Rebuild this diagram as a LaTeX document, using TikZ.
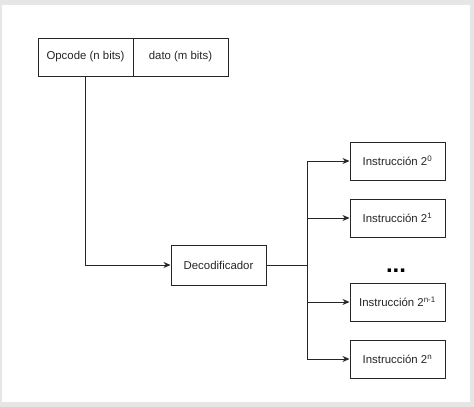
\documentclass[tikz,border=0pt]{standalone}
\usepackage{fontspec}
\setmainfont{Liberation Sans}
\usetikzlibrary{arrows.meta}
\definecolor{frame}{HTML}{E6E6E6}
\definecolor{ln}{HTML}{262626}
\begin{document}
\begin{tikzpicture}[x=1pt,y=-1pt,
  box/.style={draw=ln,line width=1pt,fill=white,minimum width=95pt,minimum height=38pt,inner sep=0pt,font=\fontsize{11.4}{13}\selectfont,text=ln},
  conn/.style={draw=ln,line width=1pt},
  arr/.style={conn,-{Stealth[length=7pt,width=6pt]}}]
\fill[frame] (0,0) rectangle (474,407);
\fill[white] (2,5) rectangle (470,402);
\useasboundingbox (0,0) rectangle (474,407);
\node[box] (op) at (85.5,57) {Opcode (n bits)};
\node[box] (dato) at (180.5,57) {dato (m bits)};
\node[box,minimum height=40pt] (dec) at (218.5,265) {Decodificador};
\node[box] (i0) at (397.5,161) {Instrucción 2\textsuperscript{0}};
\node[box] (i1) at (397.5,218) {Instrucción 2\textsuperscript{1}};
\node[box] (i2) at (397.5,302) {Instrucción 2\textsuperscript{n-1}};
\node[box] (i3) at (397.5,359) {Instrucción 2\textsuperscript{n}};
\node[font=\fontsize{24}{24}\selectfont\bfseries,text=black,inner sep=0pt,anchor=base] (dots) at (396,272) {...};
\coordinate (bus) at (307,265);
\draw[arr] (op.south) |- (dec.west);
\draw[conn] (dec.east) -- (bus);
\draw[conn] (bus |- i0.west) -- (bus |- i3.west);
\draw[arr] (bus |- i0.west) -- (i0.west);
\draw[arr] (bus |- i1.west) -- (i1.west);
\draw[arr] (bus |- i2.west) -- (i2.west);
\draw[arr] (bus |- i3.west) -- (i3.west);
\end{tikzpicture}
\end{document}
